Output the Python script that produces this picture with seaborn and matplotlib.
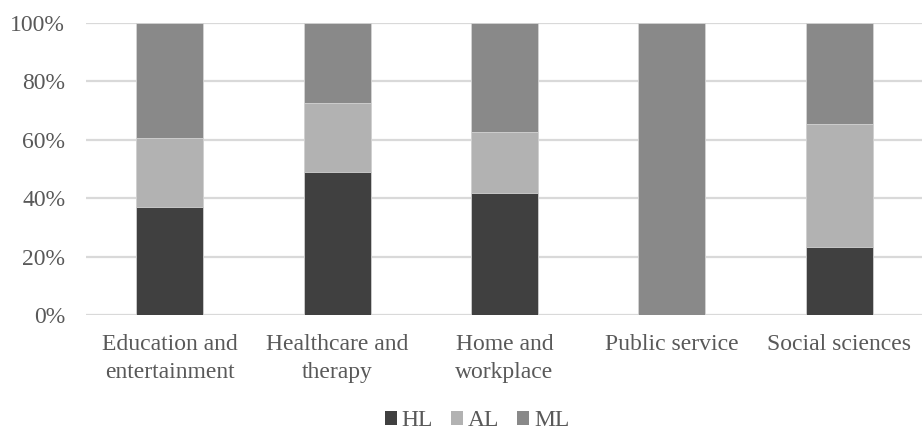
import numpy as np
import pandas as pd
import seaborn as sns
import matplotlib.pyplot as plt
from matplotlib.patches import Patch
from matplotlib.ticker import PercentFormatter

categories = ["Education and\nentertainment", "Healthcare and\ntherapy",
              "Home and\nworkplace", "Public service", "Social sciences"]
hl = [37.0, 48.8, 41.7, 0.0, 23.1]
al = [23.7, 23.7, 20.8, 0.0, 42.3]
ml = [39.3, 27.5, 37.5, 100.0, 34.6]
series_names = ["HL", "AL", "ML"]
colors = {"HL": "#404040", "AL": "#b2b2b2", "ML": "#898989"}

sns.set_theme(style="white")
plt.rcParams["font.family"] = ["Liberation Serif", "DejaVu Serif"]
text_color = "#595959"
fs = 17

df = pd.DataFrame({"category": categories, "HL": hl, "AL": al, "ML": ml})
df["HL_top"] = df["HL"]
df["AL_top"] = df["HL"] + df["AL"]
df["ML_top"] = df["HL"] + df["AL"] + df["ML"]

fig = plt.figure(figsize=(9.22, 4.34), dpi=100)
ax = fig.add_axes([86 / 922, 1 - 315 / 434, 837 / 922, (315 - 22.7) / 434])

# stacked bars: draw cumulative totals from the top segment down
for name in ["ML", "AL", "HL"]:
    sns.barplot(data=df, x="category", y=f"{name}_top", color=colors[name],
                width=0.4, saturation=1, ax=ax, zorder=3,
                edgecolor="#d4d4d4", linewidth=0.6)

ax.set_ylim(0, 100)
ax.set_yticks(np.arange(0, 101, 20))
ax.yaxis.set_major_formatter(PercentFormatter(decimals=0))
ax.grid(axis="y", color="#d9d9d9", linewidth=1.6, zorder=0)
ax.set_axisbelow(True)
for s in ax.spines.values():
    s.set_visible(False)
ax.set_xlabel("")
ax.set_ylabel("")
ax.tick_params(axis="both", length=0, labelsize=fs, colors=text_color)
ax.tick_params(axis="y", pad=15)
ax.tick_params(axis="x", pad=14)
for lbl in ax.get_xticklabels():
    lbl.set_linespacing(1.4)

handles = [Patch(facecolor=colors[n], edgecolor="none", label=n) for n in series_names]
leg = fig.legend(handles=handles, loc="center", bbox_to_anchor=(477 / 922, 1 - 421 / 434),
                 ncol=3, frameon=False, fontsize=fs, handlelength=0.5,
                 handleheight=0.5, handletextpad=0.22, columnspacing=0.75,
                 borderpad=0)
for t in leg.get_texts():
    t.set_color(text_color)

fig.savefig("out.png", dpi=100)
